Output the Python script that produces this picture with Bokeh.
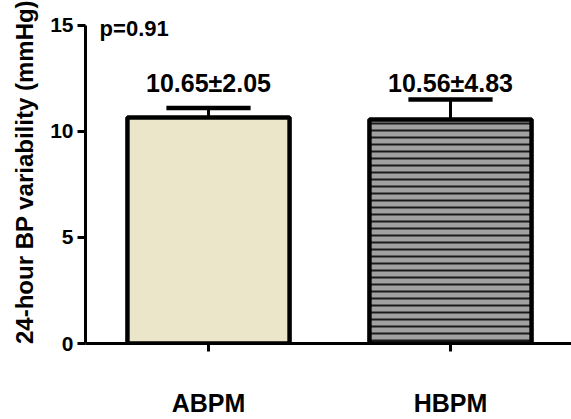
from bokeh.plotting import figure
from bokeh.models import Range1d, FixedTicker, ColumnDataSource
from bokeh.core.properties import value
from bokeh.embed import file_html
from bokeh.resources import INLINE

categories = ["ABPM", "HBPM"]
means = [10.65, 10.56]
err_upper = [11.1, 11.5]
bar_labels = ["10.65\u00b12.05", "10.56\u00b14.83"]
fill_colors = ["#ebe6c9", "#a1a1a1"]
hatches = [" ", "-"]
y_ticks = [0, 5, 10, 15]
p_text = "p=0.91"

xs = [i + 1 for i in range(len(categories))]
FONT = "Liberation Sans"
y_max = y_ticks[-1]

p = figure(width=571, height=419, output_backend="svg", toolbar_location=None,
           x_range=Range1d(0.4917, 2.5), y_range=Range1d(0, y_max * 345 / 320),
           min_border_left=85, min_border_right=0, min_border_top=0, min_border_bottom=74)
p.outline_line_color = None
p.xgrid.visible = False
p.ygrid.visible = False
p.background_fill_color = "white"

label_y = max(err_upper) + 0.8
src = ColumnDataSource(dict(x=xs, top=means, up=err_upper, fill=fill_colors,
                            hatch=hatches, lab=bar_labels,
                            ly=[label_y] * len(xs)))

p.segment(x0="x", y0="top", x1="x", y1="up", source=src, line_color="black", line_width=3)
p.segment(x0=[x - 0.174 for x in xs], y0=err_upper, x1=[x + 0.174 for x in xs], y1=err_upper,
          line_color="black", line_width=4.5)
p.vbar(x="x", top="top", bottom=0, width=0.67, source=src, fill_color="fill",
       line_color="black", line_width=4.5, hatch_pattern="hatch", hatch_color="#1a1a1a",
       hatch_scale=7, hatch_weight=2)

p.text(x="x", y="ly", text="lab", source=src,
       text_font=value(FONT), text_font_style="bold", text_font_size="25px",
       text_align="center", text_baseline="middle", color="black")
p.text(x=[0.550], y=[14.85], text=[p_text], text_font=value(FONT), text_font_style="bold",
       text_font_size="22px", text_align="left", text_baseline="middle", color="black")

for ax in (p.xaxis[0], p.yaxis[0]):
    ax.axis_line_width = 3
    ax.major_tick_line_width = 3
    ax.major_tick_in = 0
    ax.major_tick_out = 8
    ax.minor_tick_line_color = None
    ax.major_label_text_font = FONT
    ax.major_label_text_font_style = "bold"
    ax.major_label_text_color = "black"
    ax.axis_line_color = "black"
    ax.major_tick_line_color = "black"

p.xaxis.ticker = FixedTicker(ticks=xs)
p.xaxis.major_label_overrides = {x: c for x, c in zip(xs, categories)}
p.xaxis.major_label_text_font_size = "25px"
p.xaxis.major_label_standoff = 37

p.yaxis.ticker = FixedTicker(ticks=y_ticks)
p.yaxis.bounds = (0, y_max)
p.yaxis.major_label_text_font_size = "21px"
p.yaxis.major_label_standoff = 4
p.yaxis.axis_label = "24-hour BP variability (mmHg)"
p.yaxis.axis_label_text_font = FONT
p.yaxis.axis_label_text_font_style = "bold"
p.yaxis.axis_label_text_font_size = "24px"
p.yaxis.axis_label_standoff = 9
p.yaxis.axis_label_text_color = "black"

open("out.html", "w").write(file_html(p, INLINE))
